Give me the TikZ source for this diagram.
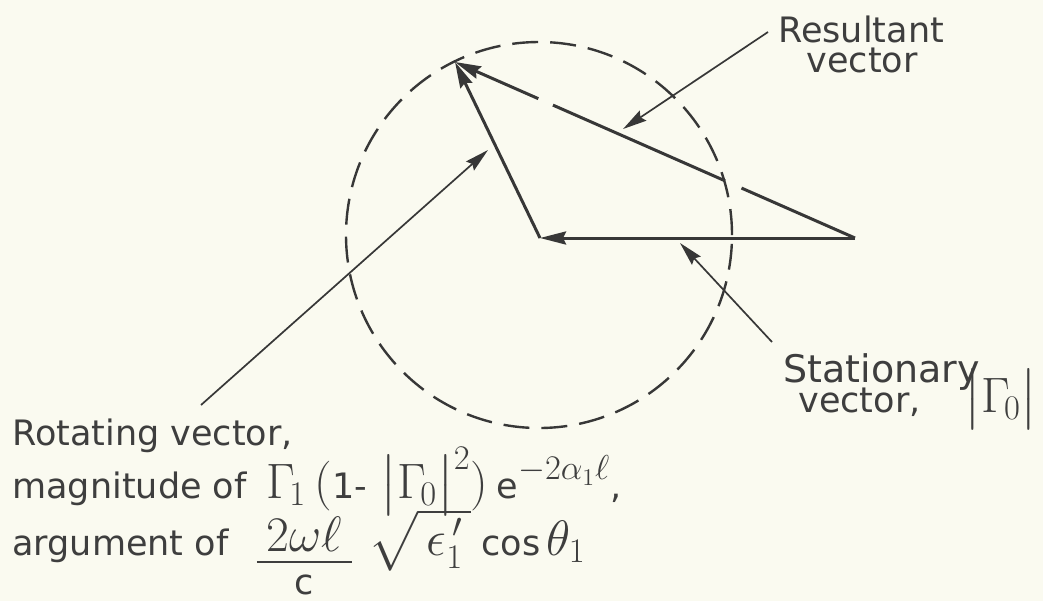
\documentclass[tikz,border=0pt]{standalone}
\usepackage{amsmath}
\usepackage{fontspec}
\setmainfont{DejaVu Sans}
\definecolor{phPaper}{RGB}{250, 250, 240}
\definecolor{phLine} {RGB}{ 55,  55,  55}
\definecolor{phInk}  {RGB}{ 62,  62,  62}
\usetikzlibrary{
  arrows.meta,
}
% text size of the labels, and the larger size used for their formulas
\newcommand{\lblsize}{\fontsize{17.5}{21}\selectfont}
\newcommand{\mth}[1]{{\fontsize{23}{24}\selectfont$#1$}}

\begin{document}
\begin{tikzpicture}[
  x=0.5pt, y=-0.5pt,
  vec/.style={draw=phLine, line width=1.5pt,
              -{Stealth[length=13pt, width=6.5pt, inset=1.5pt]}},
  lead/.style={draw=phLine, line width=0.85pt,
               -{Stealth[length=12pt, width=6pt, inset=1.5pt]}},
  locus/.style={draw=phLine, line width=1.2pt, dash pattern=on 13pt off 6pt},
  lbl/.style={font=\lblsize, text=phInk, inner sep=0pt, anchor=base west},
]
  % page and margins
  \fill[phPaper] (0,0) rectangle (1043,601);
  \useasboundingbox (0,0) rectangle (1043,601);

  % the three vectors
  \coordinate (orig) at (540,238);
  \coordinate (tip)  at (455, 62);
  \coordinate (tail) at (855,238);

  % circle swept by the rotating vector
  \draw[locus] (539,235) circle[radius=96.5pt];

  \draw[vec] (tail) -- (orig);
  \draw[vec] (orig) -- (tip);
  \draw[vec, dash pattern=on 62pt off 9pt on 94pt off 8pt on 80pt off 1pt] (tail) -- (tip);

  % labels
  \node[lbl] (resA) at (778, 42) {Resultant};
  \node[lbl, anchor=base] (resB) at (862, 72) {vector};

  \node[lbl, font=\fontsize{19}{23}\selectfont] (staA) at (783,382) {Stationary};
  \node[lbl] (staB) at (798,412)
    {vector,\hspace{22pt}\mth{\bigl|\Gamma_{\!0}\bigr|}};

  \node[lbl] (rotA) at (12,445) {Rotating vector,};
  \node[lbl] (rotB) at (12,498)
    {magnitude of\hspace{10pt}\mth{\Gamma_{\!1}\,(\text{\lblsize 1-}\;\bigl|\Gamma_{\!0}\bigr|^{2})\,\text{\lblsize e}^{-2\alpha_1\ell}},};
  \node[lbl] (rotC) at (12,555)
    {argument of\hspace{13pt}\raisebox{-9.75pt}{\mth{\genfrac{}{}{1.2pt}{0}%
       {\raisebox{-5.3pt}{$\hspace{5pt}2\omega\ell\hspace{5pt}$}}{\raisebox{7pt}{\text{\lblsize c}}}}}\hspace{7pt}%
     \mth{\sqrt{\,\epsilon_1^{\,\prime}\,}}\hspace{5pt}cos\,\mth{\theta_1}};

  % leader ends
  \coordinate (resLead) at (768, 32);
  \coordinate (resHit)  at (623,129);
  \coordinate (rotLead) at (201,405);
  \coordinate (rotHit)  at (488,150);
  \coordinate (staLead) at (772,342);
  \coordinate (staHit)  at (680,243);

  \draw[lead] (resLead) -- (resHit);
  \draw[lead] (rotLead) -- (rotHit);
  \draw[lead] (staLead) -- (staHit);
\end{tikzpicture}
\end{document}
